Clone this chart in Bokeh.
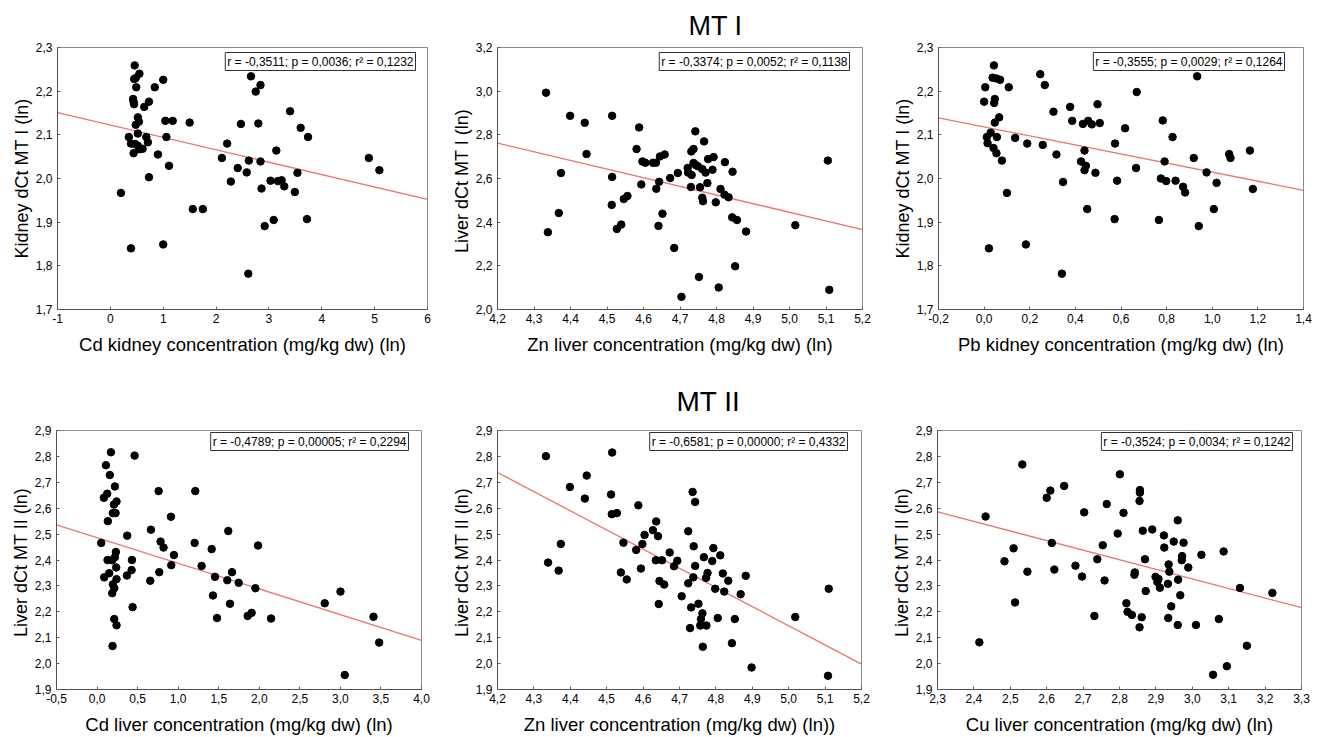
from bokeh.plotting import figure
from bokeh.models import Range1d, FixedTicker, Label, Title
from bokeh.layouts import column, row
from bokeh.embed import file_html
from bokeh.resources import INLINE

FONT = "Liberation Sans"

# ---------------- data ----------------
# Panel 1: Cd kidney vs Kidney dCt MT I
x1 = [0.46, 0.55, 0.48, 0.45, 0.49, 0.84, 1.00, 0.43, 0.44, 0.45, 0.73, 0.64, 0.52, 0.54, 0.48,
      1.04, 1.18, 1.50, 0.52, 0.35, 0.39, 0.47, 0.52, 0.44, 0.61, 0.55, 0.68, 0.71, 1.06, 0.90,
      1.11, 0.73, 0.20, 0.39, 1.00, 1.56, 1.75, 2.21, 2.11, 2.47, 2.66, 2.84, 2.75, 2.80, 2.62,
      2.84, 2.41, 2.58, 2.28, 2.86, 3.03, 3.14, 3.17, 3.24, 3.29, 3.40, 3.60, 3.74, 3.54, 3.49,
      3.09, 2.92, 3.72, 2.61, 4.89, 5.09]
y1 = [2.259, 2.240, 2.230, 2.228, 2.209, 2.209, 2.226, 2.182, 2.175, 2.170, 2.176, 2.164, 2.140, 2.130, 2.123,
      2.132, 2.132, 2.128, 2.103, 2.095, 2.080, 2.079, 2.075, 2.058, 2.068, 2.067, 2.095, 2.083, 2.095, 2.055,
      2.029, 2.003, 1.967, 1.840, 1.849, 1.930, 1.930, 2.080, 2.047, 2.125, 2.234, 2.214, 2.199, 2.126, 2.041,
      2.039, 2.024, 2.014, 1.993, 1.977, 1.995, 2.064, 1.994, 1.996, 1.982, 2.154, 2.116, 2.095, 2.013, 1.969,
      1.905, 1.891, 1.907, 1.782, 2.047, 2.019]
fit1_x = [-1, 6]
fit1_y = [2.151, 1.952]

# Panel 2: Zn liver vs Liver dCt MT I
x2 = [4.333, 4.338, 4.368, 4.374, 4.399, 4.439, 4.444, 4.514, 4.514, 4.513, 4.527, 4.539, 4.546, 4.556, 4.588,
      4.581, 4.594, 4.597, 4.605, 4.626, 4.634, 4.645, 4.658, 4.635, 4.643, 4.641, 4.652, 4.673, 4.684, 4.694,
      4.704, 4.721, 4.722, 4.731, 4.737, 4.742, 4.737, 4.743, 4.732, 4.730, 4.749, 4.761, 4.755, 4.766, 4.770,
      4.775, 4.777, 4.792, 4.789, 4.761, 4.763, 4.798, 4.811, 4.822, 4.833, 4.823, 4.844, 4.843, 4.856, 4.881,
      4.851, 4.752, 4.806, 5.016, 5.105, 5.109]
y2 = [2.993, 2.354, 2.442, 2.625, 2.887, 2.855, 2.712, 2.887, 2.607, 2.479, 2.369, 2.389, 2.506, 2.520, 2.834,
      2.735, 2.573, 2.678, 2.672, 2.672, 2.672, 2.701, 2.710, 2.553, 2.585, 2.383, 2.439, 2.602, 2.282, 2.625,
      2.058, 2.648, 2.627, 2.724, 2.735, 2.816, 2.671, 2.662, 2.616, 2.561, 2.656, 2.643, 2.560, 2.770, 2.627,
      2.579, 2.689, 2.698, 2.640, 2.512, 2.496, 2.491, 2.552, 2.526, 2.514, 2.675, 2.631, 2.422, 2.410, 2.357,
      2.198, 2.149, 2.101, 2.386, 2.682, 2.090]
fit2_x = [4.2, 5.2]
fit2_y = [2.762, 2.366]

# Panel 3: Pb kidney vs Kidney dCt MT I
x3 = [0.043, 0.005, 0.000, 0.037, 0.054, 0.070, 0.108, 0.047, 0.044, 0.047, 0.066, 0.029, 0.012, 0.015, 0.041,
      0.056, 0.054, 0.078, 0.100, 0.021, 0.136, 0.189, 0.183, 0.246, 0.266, 0.257, 0.304, 0.317, 0.377, 0.386,
      0.346, 0.341, 0.433, 0.456, 0.472, 0.497, 0.507, 0.440, 0.425, 0.446, 0.440, 0.488, 0.452, 0.618, 0.574,
      0.583, 0.572, 0.669, 0.666, 0.783, 0.826, 0.791, 0.775, 0.798, 0.839, 0.872, 0.881, 0.766, 0.934, 0.919,
      0.975, 1.019, 1.007, 0.941, 1.074, 1.080, 1.165, 1.178]
y3 = [2.259, 2.209, 2.176, 2.231, 2.229, 2.226, 2.209, 2.182, 2.173, 2.128, 2.140, 2.105, 2.095, 2.081, 2.070,
      2.095, 2.058, 2.041, 1.967, 1.840, 2.093, 2.080, 1.849, 2.239, 2.214, 2.077, 2.153, 2.055, 2.164, 2.132,
      1.992, 1.782, 2.125, 2.132, 2.124, 2.170, 2.127, 2.064, 2.039, 2.029, 2.019, 2.013, 1.930, 2.115, 2.080,
      1.995, 1.907, 2.198, 2.024, 2.133, 2.095, 2.039, 2.000, 1.994, 1.995, 1.981, 1.968, 1.905, 2.234, 2.047,
      2.014, 1.990, 1.930, 1.891, 2.056, 2.047, 2.064, 1.976]
fit3_x = [-0.2, 1.4]
fit3_y = [2.139, 1.973]

# Panel 4: Cd liver vs Liver dCt MT II
x4 = [0.171, 0.463, 0.109, 0.158, 0.220, 0.125, 0.084, 0.240, 0.208, 0.228, 0.195, 0.133, 0.051, 0.372, 0.759,
      1.211, 0.911, 0.664, 0.783, 0.820, 0.948, 0.915, 0.767, 0.656, 1.203, 1.289, 1.618, 1.985, 1.413, 1.454,
      1.664, 1.606, 1.746, 1.952, 1.429, 1.639, 1.479, 1.857, 1.906, 2.145, 2.807, 3.001, 3.408, 3.478, 3.054,
      0.129, 0.088, 0.150, 0.187, 0.232, 0.220, 0.236, 0.240, 0.195, 0.212, 0.187, 0.212, 0.240, 0.191, 0.368,
      0.426, 0.430, 0.438]
y4 = [2.816, 2.803, 2.766, 2.728, 2.684, 2.656, 2.640, 2.626, 2.614, 2.581, 2.581, 2.550, 2.466, 2.494, 2.666,
      2.666, 2.567, 2.517, 2.471, 2.448, 2.419, 2.380, 2.353, 2.320, 2.466, 2.377, 2.512, 2.456, 2.442, 2.335,
      2.353, 2.322, 2.312, 2.291, 2.263, 2.231, 2.176, 2.184, 2.196, 2.174, 2.233, 2.278, 2.181, 2.081, 1.956,
      2.400, 2.333, 2.349, 2.399, 2.431, 2.411, 2.371, 2.326, 2.306, 2.291, 2.272, 2.172, 2.148, 2.068, 2.340,
      2.361, 2.400, 2.218]
fit4_x = [-0.5, 4.0]
fit4_y = [2.536, 2.090]

# Panel 5: Zn liver vs Liver dCt MT II
x5 = [4.333, 4.515, 4.445, 4.399, 4.440, 4.512, 4.514, 4.528, 4.587, 4.339, 4.374, 4.368, 4.546, 4.539, 4.555,
      4.581, 4.594, 4.598, 4.604, 4.627, 4.636, 4.641, 4.635, 4.652, 4.645, 4.658, 4.643, 4.673, 4.685, 4.694,
      4.706, 4.724, 4.736, 4.743, 4.739, 4.743, 4.738, 4.724, 4.732, 4.729, 4.752, 4.763, 4.759, 4.757, 4.764,
      4.774, 4.767, 4.777, 4.773, 4.793, 4.790, 4.812, 4.798, 4.805, 4.819, 4.823, 4.834, 4.844, 4.852, 4.868,
      4.882, 4.898, 5.018, 5.110, 5.108]
y5 = [2.801, 2.815, 2.726, 2.682, 2.637, 2.653, 2.577, 2.581, 2.611, 2.390, 2.462, 2.359, 2.467, 2.352, 2.325,
      2.439, 2.367, 2.462, 2.497, 2.515, 2.549, 2.492, 2.399, 2.399, 2.319, 2.305, 2.230, 2.429, 2.376, 2.397,
      2.260, 2.511, 2.663, 2.624, 2.453, 2.377, 2.333, 2.310, 2.217, 2.137, 2.231, 2.194, 2.172, 2.147, 2.065,
      2.147, 2.411, 2.350, 2.331, 2.446, 2.396, 2.418, 2.289, 2.176, 2.348, 2.278, 2.320, 2.079, 2.172, 2.268,
      2.339, 1.985, 2.180, 2.289, 1.953]
fit5_x = [4.2, 5.2]
fit5_y = [2.738, 1.998]

# Panel 6: Cu liver vs Liver dCt MT II
x6 = [2.533, 2.432, 2.415, 2.484, 2.509, 2.513, 2.547, 2.600, 2.610, 2.648, 2.614, 2.621, 2.679, 2.703, 2.697,
      2.739, 2.731, 2.754, 2.759, 2.765, 2.801, 2.811, 2.795, 2.819, 2.822, 2.834, 2.841, 2.842, 2.855, 2.856,
      2.856, 2.864, 2.870, 2.872, 2.861, 2.855, 2.890, 2.922, 2.923, 2.899, 2.907, 2.904, 2.911, 2.935, 2.937,
      2.933, 2.942, 2.934, 2.949, 2.960, 2.976, 2.972, 2.971, 2.961, 2.967, 2.989, 2.960, 3.010, 3.025, 3.086,
      3.073, 3.131, 3.220, 3.150, 3.095, 3.057]
y6 = [2.769, 2.568, 2.082, 2.395, 2.445, 2.236, 2.355, 2.640, 2.668, 2.686, 2.466, 2.363, 2.378, 2.584, 2.336,
      2.403, 2.184, 2.457, 2.321, 2.616, 2.731, 2.582, 2.502, 2.233, 2.200, 2.188, 2.343, 2.352, 2.628, 2.670,
      2.660, 2.513, 2.403, 2.280, 2.179, 2.140, 2.518, 2.495, 2.448, 2.335, 2.327, 2.315, 2.293, 2.383, 2.355,
      2.308, 2.221, 2.176, 2.471, 2.553, 2.467, 2.415, 2.399, 2.324, 2.264, 2.371, 2.149, 2.149, 2.420, 2.433,
      2.172, 2.292, 2.273, 2.069, 1.990, 1.957]
fit6_x = [2.3, 3.3]
fit6_y = [2.586, 2.216]

# ---------------- ticks ----------------
xt1 = [-1, 0, 1, 2, 3, 4, 5, 6]
xt1_lab = ["-1", "0", "1", "2", "3", "4", "5", "6"]
yt_k = [1.7, 1.8, 1.9, 2.0, 2.1, 2.2, 2.3]
yt_k_lab = ["1,7", "1,8", "1,9", "2,0", "2,1", "2,2", "2,3"]
xt_zn = [4.2, 4.3, 4.4, 4.5, 4.6, 4.7, 4.8, 4.9, 5.0, 5.1, 5.2]
xt_zn_lab = ["4,2", "4,3", "4,4", "4,5", "4,6", "4,7", "4,8", "4,9", "5,0", "5,1", "5,2"]
yt2 = [2.0, 2.2, 2.4, 2.6, 2.8, 3.0, 3.2]
yt2_lab = ["2,0", "2,2", "2,4", "2,6", "2,8", "3,0", "3,2"]
xt3 = [-0.2, 0.0, 0.2, 0.4, 0.6, 0.8, 1.0, 1.2, 1.4]
xt3_lab = ["-0,2", "0,0", "0,2", "0,4", "0,6", "0,8", "1,0", "1,2", "1,4"]
xt4 = [-0.5, 0.0, 0.5, 1.0, 1.5, 2.0, 2.5, 3.0, 3.5, 4.0]
xt4_lab = ["-0,5", "0,0", "0,5", "1,0", "1,5", "2,0", "2,5", "3,0", "3,5", "4,0"]
yt_l2 = [1.9, 2.0, 2.1, 2.2, 2.3, 2.4, 2.5, 2.6, 2.7, 2.8, 2.9]
yt_l2_lab = ["1,9", "2,0", "2,1", "2,2", "2,3", "2,4", "2,5", "2,6", "2,7", "2,8", "2,9"]
xt6 = [2.3, 2.4, 2.5, 2.6, 2.7, 2.8, 2.9, 3.0, 3.1, 3.2, 3.3]
xt6_lab = ["2,3", "2,4", "2,5", "2,6", "2,7", "2,8", "2,9", "3,0", "3,1", "3,2", "3,3"]

stats = [
    "r = -0,3511; p = 0,0036; r\u00b2 = 0,1232",
    "r = -0,3374; p = 0,0052; r\u00b2 = 0,1138",
    "r = -0,3555; p = 0,0029; r\u00b2 = 0,1264",
    "r = -0,4789; p = 0,00005; r\u00b2 = 0,2294",
    "r = -0,6581; p = 0,00000; r\u00b2 = 0,4332",
    "r = -0,3524; p = 0,0034; r\u00b2 = 0,1242",
]


def panel(w, h, bl, br, bt, bb, xr, yr, xt, xtl, yt, ytl, xs, ys, fx, fy, xlabel, ylabel, stat, inset):
    p = figure(width=w, height=h, x_range=Range1d(*xr), y_range=Range1d(*yr),
               output_backend="svg", toolbar_location=None,
               min_border_left=bl, min_border_right=br, min_border_top=bt, min_border_bottom=bb)
    p.grid.visible = False
    p.outline_line_color = "#8a8a8a"
    p.background_fill_color = "white"
    p.border_fill_color = "white"
    p.line(fx, fy, line_color="#f07272", line_width=1.3)
    p.scatter(xs, ys, size=7.5, fill_color="black", line_color="black")
    for ax, t, tl in ((p.xaxis[0], xt, xtl), (p.yaxis[0], yt, ytl)):
        ax.ticker = FixedTicker(ticks=t)
        ax.major_label_overrides = dict(zip(t, tl))
        ax.major_tick_in = 3
        ax.major_tick_out = 0
        ax.minor_tick_in = 0
        ax.minor_tick_out = 0
        ax.axis_line_color = "#505050"
        ax.major_tick_line_color = "#606060"
        ax.major_label_text_font = FONT
        ax.major_label_text_font_size = "12px"
        ax.major_label_text_color = "black"
        ax.axis_label_text_font = FONT
        ax.axis_label_text_font_style = "normal"
        ax.axis_label_text_color = "black"
    p.xaxis[0].axis_label = xlabel
    p.yaxis[0].axis_label = ylabel
    p.xaxis[0].axis_label_text_font_size = "18.5px"
    p.yaxis[0].axis_label_text_font_size = "18px"
    p.xaxis[0].major_label_standoff = 4
    p.xaxis[0].axis_label_standoff = 8
    p.yaxis[0].major_label_standoff = 5
    p.yaxis[0].axis_label_standoff = 1
    fw = w - bl - br
    fh = h - bt - bb
    p.add_layout(Label(x=fw - inset - 1, y=fh - 5, x_units="screen", y_units="screen",
                       text=stat, text_align="right", text_baseline="top",
                       text_font=FONT, text_font_size="12px", text_color="black",
                       border_line_color="#303030", border_line_width=1,
                       background_fill_color="white", padding=2))
    return p


# Row 1: 0..370, Row 2: 370..737
p1 = panel(440, 370, 57, 13, 47, 61, (-1, 6), (1.7, 2.3), xt1, xt1_lab, yt_k, yt_k_lab,
           x1, y1, fit1_x, fit1_y, "Cd kidney concentration (mg/kg dw) (ln)",
           "Kidney dCt MT I (ln)", stats[0], 11)
p2 = panel(440, 370, 57, 18, 47, 61, (4.2, 5.2), (2.0, 3.2), xt_zn, xt_zn_lab, yt2, yt2_lab,
           x2, y2, fit2_x, fit2_y, "Zn liver concentration (mg/kg dw) (ln)",
           "Liver dCt MT I  (ln)", stats[1], 12)
p3 = panel(440, 370, 58, 17, 47, 61, (-0.2, 1.4), (1.7, 2.3), xt3, xt3_lab, yt_k, yt_k_lab,
           x3, y3, fit3_x, fit3_y, "Pb kidney concentration (mg/kg dw) (ln)",
           "Kidney dCt MT I (ln)", stats[2], 18)
p4 = panel(440, 367, 56, 19, 59, 46, (-0.5, 4.0), (1.9, 2.9), xt4, xt4_lab, yt_l2, yt_l2_lab,
           x4, y4, fit4_x, fit4_y, "Cd liver concentration (mg/kg dw) (ln)",
           "Liver dCt MT II  (ln)", stats[3], 12)
p5 = panel(440, 367, 57, 19, 59, 46, (4.2, 5.2), (1.9, 2.9), xt_zn, xt_zn_lab, yt_l2, yt_l2_lab,
           x5, y5, fit5_x, fit5_y, "Zn liver concentration (mg/kg dw) (ln))",
           "Liver dCt MT II  (ln)", stats[4], 13)
p6 = panel(440, 367, 57, 19, 59, 46, (2.3, 3.3), (1.9, 2.9), xt6, xt6_lab, yt_l2, yt_l2_lab,
           x6, y6, fit6_x, fit6_y, "Cu liver concentration (mg/kg dw) (ln)",
           "Liver dCt MT II  (ln)", stats[5], 8)

p2.add_layout(Title(text="MT I", align="left", offset=191, standoff=13, vertical_align="bottom",
                    text_font=FONT, text_font_size="27px", text_font_style="normal",
                    text_color="black"), "above")
p5.add_layout(Title(text="MT II", align="left", offset=179, standoff=27, vertical_align="bottom",
                    text_font=FONT, text_font_size="28px", text_font_style="normal",
                    text_color="black"), "above")

layout = column(row(p1, p2, p3), row(p4, p5, p6))
open("out.html", "w").write(file_html(layout, INLINE))
